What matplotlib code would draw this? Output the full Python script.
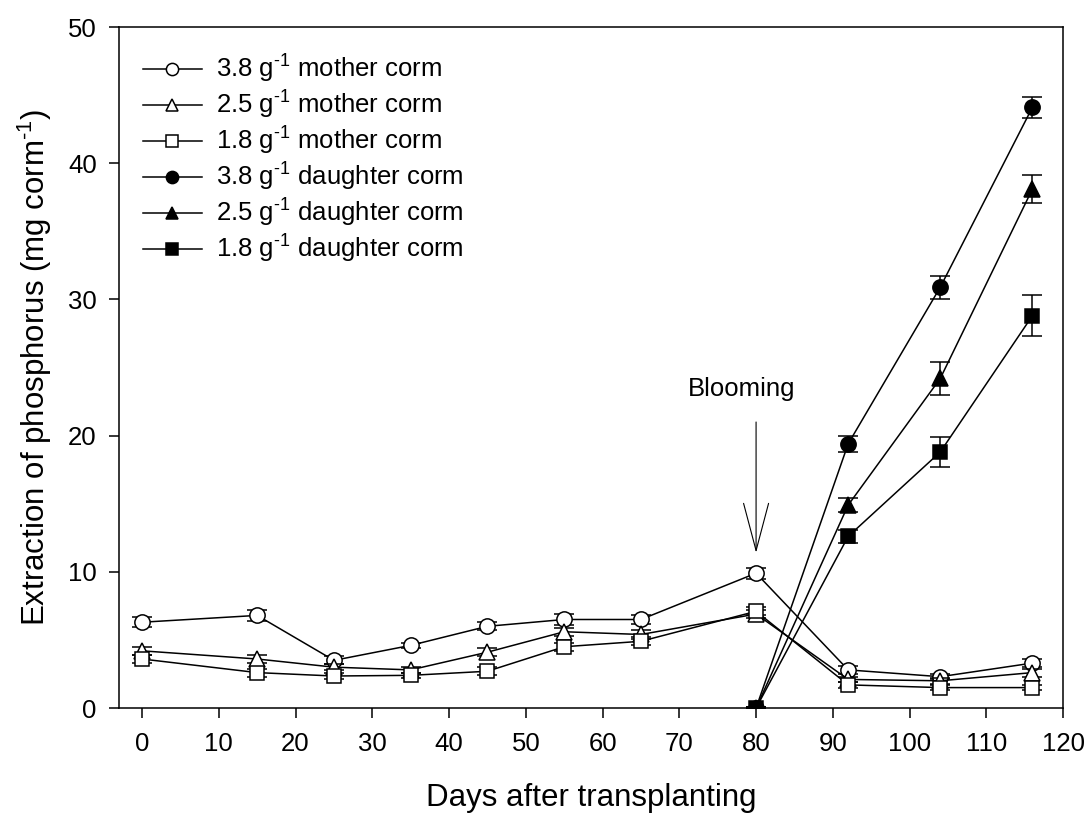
import matplotlib
matplotlib.use("Agg")
import matplotlib.pyplot as plt

# -----------------------------
# data
# -----------------------------
days_mother = [0, 15, 25, 35, 45, 55, 65, 80, 92, 104, 116]
mother_38 = [6.3, 6.8, 3.5, 4.6, 6.0, 6.5, 6.5, 9.9, 2.8, 2.3, 3.3]
mother_38_err = [0.35, 0.4, 0.3, 0.2, 0.3, 0.4, 0.3, 0.4, 0.3, 0.2, 0.3]
mother_25 = [4.2, 3.6, 3.0, 2.8, 4.1, 5.6, 5.4, 6.9, 2.1, 2.0, 2.6]
mother_25_err = [0.3, 0.3, 0.2, 0.2, 0.3, 0.3, 0.3, 0.3, 0.2, 0.2, 0.3]
mother_18 = [3.6, 2.6, 2.35, 2.4, 2.7, 4.5, 4.9, 7.1, 1.7, 1.5, 1.5]
mother_18_err = [0.3, 0.3, 0.2, 0.2, 0.3, 0.3, 0.3, 0.3, 0.2, 0.2, 0.2]

days_daughter = [80, 92, 104, 116]
daughter_38 = [0.0, 19.4, 30.9, 44.1]
daughter_38_err = [0.1, 0.6, 0.85, 0.75]
daughter_25 = [0.0, 14.9, 24.2, 38.1]
daughter_25_err = [0.1, 0.5, 1.2, 1.0]
daughter_18 = [0.0, 12.6, 18.8, 28.8]
daughter_18_err = [0.1, 0.5, 1.1, 1.5]

labels = [
    r"3.8 g$^{\text{-1}}$ mother corm",
    r"2.5 g$^{\text{-1}}$ mother corm",
    r"1.8 g$^{\text{-1}}$ mother corm",
    r"3.8 g$^{\text{-1}}$ daughter corm",
    r"2.5 g$^{\text{-1}}$ daughter corm",
    r"1.8 g$^{\text{-1}}$ daughter corm",
]

# -----------------------------
# style
# -----------------------------
plt.rcParams["font.family"] = ["Liberation Sans", "DejaVu Sans"]
plt.rcParams["mathtext.fontset"] = "custom"
plt.rcParams["mathtext.rm"] = "Liberation Sans"
plt.rcParams["mathtext.it"] = "Liberation Sans:italic"
plt.rcParams["mathtext.bf"] = "Liberation Sans:bold"

fig = plt.figure(figsize=(10.87, 8.19), dpi=100)
ax = fig.add_axes([0.1095, 0.1355, 0.8685, 0.8315])

series = [
    (days_mother, mother_38, mother_38_err, "o", "white"),
    (days_mother, mother_25, mother_25_err, "^", "white"),
    (days_mother, mother_18, mother_18_err, "s", "white"),
    (days_daughter, daughter_38, daughter_38_err, "o", "black"),
    (days_daughter, daughter_25, daughter_25_err, "^", "black"),
    (days_daughter, daughter_18, daughter_18_err, "s", "black"),
]

handles = []
for i, (x, y, e, mk, fc) in enumerate(series):
    ms = 11 if mk != "s" else 10.5
    ax.errorbar(x, y, yerr=e, fmt="none", ecolor="black", elinewidth=1.1,
                capsize=7.5, capthick=1.1, zorder=2 + i)
    ln, = ax.plot(x, y, color="black", lw=1.1, marker=mk, markersize=ms,
                  markerfacecolor=fc, markeredgecolor="black",
                  markeredgewidth=1.1, label=labels[i], zorder=2.5 + i)
    handles.append(ln)

ax.set_xlim(-3, 120)
ax.set_ylim(0, 50)
ax.set_xticks(range(0, 121, 10))
ax.set_yticks(range(0, 51, 10))
ax.tick_params(direction="out", length=7, width=1.1, labelsize=18.5)
ax.tick_params(axis="x", pad=10)
ax.tick_params(axis="y", pad=9)
for s in ax.spines.values():
    s.set_linewidth(1.1)

ax.set_xlabel("Days after transplanting", fontsize=22.5, labelpad=20)
ax.set_ylabel(r"Extraction of phosphorus (mg corm$^{\text{-1}}$)", fontsize=22.5, labelpad=10)

# blooming marker
ax.annotate("", xy=(80, 11.4), xytext=(80, 21.0),
            arrowprops=dict(arrowstyle="->, head_length=34, head_width=9",
                            mutation_scale=1, lw=0.8, color="black",
                            shrinkA=0, shrinkB=0))
ax.text(78.1, 23.4, "Blooming", ha="center", va="center", fontsize=18.5)

ax.legend(handles=handles, loc="upper left", bbox_to_anchor=(0.025, 0.962),
          frameon=False, fontsize=18.5, markerscale=0.8, handlelength=2.3,
          handletextpad=0.55, labelspacing=0.15, borderaxespad=0, borderpad=0)

fig.savefig("out.png", dpi=100)
